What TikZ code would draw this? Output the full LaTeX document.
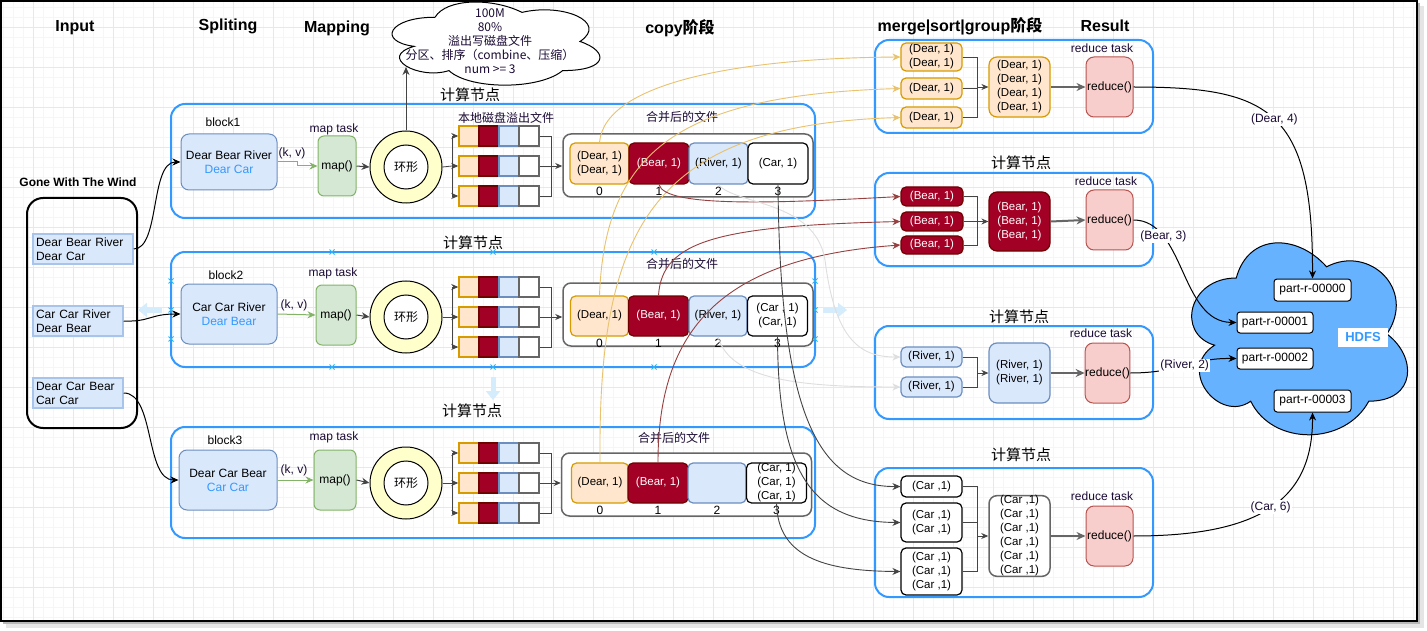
\documentclass[tikz,border=0pt]{standalone}
\usepackage{fontspec}
\setmainfont{Liberation Sans}
\newfontfamily\cjk{Noto Sans CJK SC}
\usetikzlibrary{arrows.meta}

\definecolor{compblue}{RGB}{51,153,255}
\definecolor{splitfill}{RGB}{218,232,252}
\definecolor{splitdraw}{RGB}{108,142,191}
\definecolor{linedraw}{RGB}{169,196,235}
\definecolor{mapfill}{RGB}{213,232,212}
\definecolor{mapdraw}{RGB}{130,179,102}
\definecolor{ringfill}{RGB}{255,255,204}
\definecolor{dearfill}{RGB}{255,230,204}
\definecolor{deardraw}{RGB}{215,155,0}
\definecolor{bearfill}{RGB}{162,0,37}
\definecolor{beardraw}{RGB}{111,0,0}
\definecolor{celldraw}{RGB}{102,102,102}
\definecolor{redfill}{RGB}{248,206,204}
\definecolor{reddraw}{RGB}{184,84,80}
\definecolor{hdfsfill}{RGB}{102,178,255}
\definecolor{inktext}{RGB}{26,10,51}
\definecolor{wordblue}{RGB}{51,153,255}
\definecolor{copyyellow}{RGB}{232,194,110}
\definecolor{copyred}{RGB}{150,64,64}
\definecolor{copygrey}{RGB}{222,222,222}
\definecolor{copydark}{RGB}{68,68,68}
\definecolor{gridminor}{RGB}{246,246,246}
\definecolor{gridmajor}{RGB}{232,232,232}
\definecolor{handleblue}{RGB}{41,182,242}
\definecolor{hoverblue}{RGB}{212,236,252}

\newcommand\fsbody{\fontsize{12}{14}\selectfont}
\newcommand\fstuple{\fontsize{11.5}{14}\selectfont}
\newcommand\fstitle{\fontsize{16}{19}\selectfont\bfseries}
\newcommand\fsnode{\cjk\fontsize{15}{17}\selectfont}
\newcommand\fscjk{\cjk\fontsize{12}{14}\selectfont}
\newcommand\cloudoutline[4]{(#1+0.25*#3,#2+0.25*#4)
  .. controls (#1+0.05*#3,#2+0.25*#4) and (#1,#2+0.5*#4) .. (#1+0.16*#3,#2+0.55*#4)
  .. controls (#1,#2+0.66*#4) and (#1+0.18*#3,#2+0.9*#4) .. (#1+0.31*#3,#2+0.8*#4)
  .. controls (#1+0.4*#3,#2+#4) and (#1+0.7*#3,#2+#4) .. (#1+0.8*#3,#2+0.8*#4)
  .. controls (#1+#3,#2+0.8*#4) and (#1+#3,#2+0.6*#4) .. (#1+0.875*#3,#2+0.5*#4)
  .. controls (#1+#3,#2+0.3*#4) and (#1+0.8*#3,#2+0.1*#4) .. (#1+0.625*#3,#2+0.2*#4)
  .. controls (#1+0.5*#3,#2+0.05*#4) and (#1+0.3*#3,#2+0.05*#4) .. (#1+0.25*#3,#2+0.25*#4) -- cycle}

\begin{document}
\begin{tikzpicture}[x=1pt, y=-1pt,
    stagetitle/.style={font=\fstitle, inner sep=1pt},
    note/.style={font=\fsbody, text=inktext, inner sep=1pt},
    cjknote/.style={font=\fscjk, text=inktext, inner sep=1pt},
    nodename/.style={font=\fsnode, inner sep=1pt},
    compnode/.style={draw=compblue, line width=2pt, rounded corners=14pt, inner sep=0pt},
    inputbox/.style={draw=black, line width=2pt, rounded corners=16pt, inner sep=0pt},
    linebox/.style={draw=linedraw, fill=splitfill, line width=1.5pt, font=\fsbody, align=left, inner xsep=3pt, inner ysep=0pt, minimum height=30pt},
    splitbox/.style={draw=splitdraw, fill=splitfill, line width=1pt, rounded corners=8pt, font=\fsbody, align=center, inner sep=0pt},
    mapbox/.style={draw=mapdraw, fill=mapfill, line width=1pt, rounded corners=6pt, font=\fsbody, minimum height=60pt, inner sep=0pt},
    ringbuf/.style={circle, draw=black, fill=ringfill, line width=1pt, minimum size=72pt, inner sep=0pt},
    ringcore/.style={circle, draw=black, fill=white, line width=1pt, minimum size=44pt, inner sep=0pt, font=\fscjk},
    spillcell/.style={line width=1.5pt, minimum width=20pt, minimum height=20pt, inner sep=0pt},
    mergedfile/.style={draw=celldraw, fill=white, line width=1.5pt, rounded corners=8pt, minimum width=250pt, minimum height=63pt, inner sep=0pt},
    tuple/.style={line width=1.2pt, rounded corners=5pt, font=\fstuple, align=center, inner sep=0pt},
    dearbox/.style={tuple, draw=deardraw, fill=dearfill},
    bearbox/.style={tuple, draw=beardraw, fill=bearfill, text=white},
    riverbox/.style={tuple, draw=splitdraw, fill=splitfill},
    carbox/.style={tuple, draw=black, fill=white},
    reducebox/.style={draw=reddraw, fill=redfill, line width=1pt, rounded corners=8pt, font=\fsbody, minimum height=60pt, inner sep=0pt},
    partfile/.style={draw=black, fill=white, line width=1pt, rounded corners=3pt, font=\fsbody, minimum width=77pt, minimum height=22pt, inner sep=0pt},
    num/.style={font=\fsbody, inner sep=0pt},
    edgelabel/.style={font=\fsbody, fill=white, text=inktext, inner sep=1pt},
    inflow/.style={draw=black, line width=1pt, -{Stealth[length=8pt,width=7pt]}},
    kvarrow/.style={draw=mapdraw, line width=1pt, -{Stealth[length=8pt,width=7pt]}},
    flow/.style={draw=copydark, line width=1pt, -{Stealth[length=8pt,width=7pt]}},
    thinline/.style={draw=copydark, line width=0.8pt},
    spillarrow/.style={draw=copydark, line width=0.8pt, -{Stealth[length=7pt,width=6pt]}},
    toreduce/.style={draw=celldraw, line width=2pt, -{Stealth[length=9pt,width=8pt]}},
    copyy/.style={draw=copyyellow, line width=0.9pt, -{Stealth[length=8pt,width=7pt]}},
    copyr/.style={draw=copyred, line width=0.9pt, -{Stealth[length=8pt,width=7pt]}},
    copyg/.style={draw=copygrey, line width=0.9pt, -{Stealth[length=8pt,width=7pt]}},
    copyd/.style={draw=copydark, line width=0.9pt, -{Stealth[length=8pt,width=7pt]}},
    result/.style={draw=black, line width=1pt, -{Stealth[length=8pt,width=7pt]}},
    gridfine/.style={draw=gridminor, line width=0.6pt},
    gridbold/.style={draw=gridmajor, line width=0.8pt},
    handle/.style={draw=handleblue, line width=0.8pt},
    hover/.style={draw=hoverblue, line width=5pt, -{Triangle[length=9pt,width=14pt]}}]

   \useasboundingbox (0,0) rectangle (1427,631);
   \fill[black!10] (6,6) rectangle (1424,628);
   \fill[black!28] (3,3) rectangle (1420,624);
   \fill[white] (1,1) rectangle (1417,621);
   \foreach \gx in {3,13,...,1413} \draw[gridfine] (\gx,1) -- (\gx,621);
   \foreach \gy in {7,17,...,617} \draw[gridfine] (1,\gy) -- (1417,\gy);
   \foreach \gx in {33,73,...,1393} \draw[gridbold] (\gx,1) -- (\gx,621);
   \foreach \gy in {27,67,...,587} \draw[gridbold] (1,\gy) -- (1417,\gy);
   \draw[black, line width=1.5pt] (1,1) rectangle (1417,621);

   \node[stagetitle] (t-input) at (75,28) {Input};
   \node[stagetitle] (t-split) at (228,26) {Spliting};
   \node[stagetitle] (t-map) at (337,28) {Mapping};
   \node[stagetitle] (t-copy) at (680,28) {copy{\cjk 阶段}};
   \node[stagetitle] (t-merge) at (960,26) {merge|sort|group{\cjk 阶段}};
   \node[stagetitle] (t-result) at (1105,26) {Result};

   \node[font=\fsbody\bfseries, inner sep=1pt] (wind-title) at (78,182) {Gone With The Wind};
   \node[inputbox, minimum width=110pt, minimum height=230pt] (wind) at (82,313) {};
   \node[linebox, text width=94pt] (in1) at (83,249) {Dear Bear River\\Dear Car};
   \node[linebox, text width=84pt] (in2) at (78,321) {Car Car River\\Dear Bear};
   \node[linebox, text width=84pt] (in3) at (78,393) {Dear Car Bear\\Car Car};

   \node[compnode, minimum width=644pt, minimum height=114pt] (blk1) at (493,161) {};
   \node[compnode, minimum width=644pt, minimum height=115pt] (blk2) at (493,309.5) {};
   \node[compnode, minimum width=644pt, minimum height=111pt] (blk3) at (493,482.5) {};
   \node[nodename] (blk1-name) at (470,95) {计算节点};
   \node[nodename] (blk2-name) at (473,243) {计算节点};
   \node[nodename] (blk3-name) at (472,411) {计算节点};

   \foreach \hx/\hy in {171/281,171/310,171/339,332/252,332/367,493/252,493/367,654/252,654/367,815/281,815/310,815/339}
     \draw[handle] (\hx-2.5,\hy-2.5) -- (\hx+2.5,\hy+2.5) (\hx-2.5,\hy+2.5) -- (\hx+2.5,\hy-2.5);
   \draw[hover] (162,310) -- (138,310);
   \draw[hover] (823,310) -- (847,310);
   \draw[hover] (493,377) -- (493,400);

   \node[note, text=black] (blk1-tag) at (223,122) {block1};
   \node[note, text=black] (blk2-tag) at (226,275) {block2};
   \node[note, text=black] (blk3-tag) at (225,440) {block3};
   \node[splitbox, minimum width=96pt, minimum height=56pt] (s1) at (229,162) {Dear Bear River\\\textcolor{wordblue}{Dear Car}};
   \node[splitbox, minimum width=96pt, minimum height=60pt] (s2) at (229,314) {Car Car River\\\textcolor{wordblue}{Dear Bear}};
   \node[splitbox, minimum width=98pt, minimum height=60pt] (s3) at (228,480) {Dear Car Bear\\\textcolor{wordblue}{Car Car}};

   \node[note] (m1-tag) at (334,129) {map task};
   \node[note] (m2-tag) at (333,273) {map task};
   \node[note] (m3-tag) at (334,437) {map task};
   \node[mapbox, minimum width=38pt] (m1) at (337,166) {map()};
   \node[mapbox, minimum width=40pt] (m2) at (336,315) {map()};
   \node[mapbox, minimum width=42pt] (m3) at (335,480) {map()};
   \node[note] (kv1) at (292,153) {(k, v)};
   \node[note] (kv2) at (294,305) {(k, v)};
   \node[note] (kv3) at (294,470) {(k, v)};

   \node[ringbuf] (ring1) at (406,167) {};
   \node[ringbuf] (ring2) at (406,317) {};
   \node[ringbuf] (ring3) at (406,483) {};
   \node[ringcore] (core1) at (ring1) {环形};
   \node[ringcore] (core2) at (ring2) {环形};
   \node[ringcore] (core3) at (ring3) {环形};

   \draw[black, fill=white, line width=1pt] \cloudoutline{377}{-7}{232}{97};
   \node[cjknote, align=center] (spillnote) at (490,41) {100M\\80\%\\溢出写磁盘文件\\分区、排序（combine、压缩）\\num >= 3};
   \coordinate (cloudfoot) at (406,67);

   \node[cjknote] (spill-name) at (506,118) {本地磁盘溢出文件};
   \foreach \blk/\rowtop in {1/126,2/277,3/443}
     \foreach \row in {1,2,3} {
       \pgfmathsetmacro\ry{\rowtop+30*\row-20}
       \node[spillcell, draw=deardraw, fill=dearfill] (f\blk-\row-a) at (469,\ry) {};
       \node[spillcell, draw=beardraw, fill=bearfill] (f\blk-\row-b) at (489,\ry) {};
       \node[spillcell, draw=splitdraw, fill=splitfill] (f\blk-\row-c) at (509,\ry) {};
       \node[spillcell, draw=celldraw, fill=white] (f\blk-\row-d) at (529,\ry) {};
     }
   \foreach \blk/\ry in {1/166,2/317,3/483} {
     \coordinate (sp\blk) at (452,\ry);
     \coordinate (mj\blk) at (551,\ry);
   }

   \node[cjknote] (mg1-name) at (682,117) {合并后的文件};
   \node[cjknote] (mg2-name) at (682,264) {合并后的文件};
   \node[cjknote] (mg3-name) at (674,438) {合并后的文件};
   \node[mergedfile] (mg1) at (688,165.5) {};
   \node[mergedfile] (mg2) at (688,314.5) {};
   \node[mergedfile] (mg3) at (686.5,484.5) {};

   \node[dearbox, minimum width=59pt, minimum height=41pt] (p10) at (599.5,163.5) {(Dear, 1)\\(Dear, 1)};
   \node[bearbox, minimum width=60pt, minimum height=41pt] (p11) at (659,163.5) {(Bear, 1)};
   \node[riverbox, minimum width=59pt, minimum height=41pt] (p12) at (718.5,163.5) {(River, 1)};
   \node[carbox, minimum width=60pt, minimum height=41pt] (p13) at (778,163.5) {(Car, 1)};
   \node[dearbox, minimum width=58pt, minimum height=40pt] (p20) at (599.5,316) {(Dear, 1)};
   \node[bearbox, minimum width=60pt, minimum height=40pt] (p21) at (658.5,316) {(Bear, 1)};
   \node[riverbox, minimum width=58pt, minimum height=40pt] (p22) at (718,316) {(River, 1)};
   \node[carbox, minimum width=60pt, minimum height=40pt] (p23) at (777.5,316) {(Car , 1)\\(Car, 1)};
   \node[dearbox, minimum width=57pt, minimum height=40pt] (p30) at (600,483) {(Dear, 1)};
   \node[bearbox, minimum width=60pt, minimum height=40pt] (p31) at (658,483) {(Bear, 1)};
   \node[riverbox, minimum width=58pt, minimum height=40pt] (p32) at (717,483) {};
   \node[carbox, minimum width=60pt, minimum height=40pt] (p33) at (776.5,483) {(Car, 1)\\(Car, 1)\\(Car, 1)};
   \foreach \blk in {1,2,3}
     \foreach \k in {0,1,2,3}
       \node[num] (n\blk\k) at ([yshift=-7pt]p\blk\k.south) {\k};

   \draw[inflow] (in1.east) .. controls (160,249) and (150,162) .. (s1.west);
   \draw[inflow] (in2.east) .. controls (150,322) and (150,314) .. (s2.west);
   \draw[inflow] (in3.east) .. controls (155,393) and (145,480) .. (s3.west);
   \draw[kvarrow] (s1.east) -- ++(20,0) |- (m1.west);
   \draw[kvarrow] (s2.east) -- (m2.west);
   \draw[kvarrow] (s3.east) -- (m3.west);
   \draw[flow] (m1.east) -- (ring1.west);
   \draw[flow] (m2.east) -- (ring2.west);
   \draw[flow] (m3.east) -- (ring3.west);
   \draw[flow] (ring1.north) -- (cloudfoot);
   \foreach \blk in {1,2,3} {
     \draw[thinline] (ring\blk.east) -- (sp\blk);
     \draw[spillarrow] (sp\blk) |- (f\blk-1-a.west);
     \draw[spillarrow] (sp\blk) -- (f\blk-2-a.west);
     \draw[spillarrow] (sp\blk) |- (f\blk-3-a.west);
     \draw[thinline] (f\blk-1-d.east) -| (mj\blk);
     \draw[thinline] (f\blk-3-d.east) -| (mj\blk);
     \draw[spillarrow] (f\blk-2-d.east) -- (f\blk-2-d.east -| mg\blk.west);
   }

   \node[compnode, minimum width=278pt, minimum height=93pt] (rg1) at (1014,86.5) {};
   \node[compnode, minimum width=278pt, minimum height=93pt] (rg2) at (1014,219.5) {};
   \node[compnode, minimum width=278pt, minimum height=93pt] (rg3) at (1014,372.5) {};
   \node[compnode, minimum width=278pt, minimum height=129pt] (rg4) at (1014,532.5) {};
   \node[nodename] (rg2-name) at (1021,163) {计算节点};
   \node[nodename] (rg3-name) at (1019,317) {计算节点};
   \node[nodename] (rg4-name) at (1021,455) {计算节点};
   \node[note] (rd1-tag) at (1102,48) {reduce task};
   \node[note] (rd2-tag) at (1106,181) {reduce task};
   \node[note] (rd3-tag) at (1101,333) {reduce task};
   \node[note] (rd4-tag) at (1102,496) {reduce task};

   \node[dearbox, minimum width=61pt, minimum height=28pt] (d1) at (931.5,57) {(Dear, 1)\\(Dear, 1)};
   \node[dearbox, minimum width=61pt, minimum height=21pt] (d2) at (931.5,88.5) {(Dear, 1)};
   \node[dearbox, minimum width=61pt, minimum height=21pt] (d3) at (931.5,117.5) {(Dear, 1)};
   \node[dearbox, rounded corners=8pt, minimum width=61pt, minimum height=60pt] (dm) at (1019.5,87) {(Dear, 1)\\(Dear, 1)\\(Dear, 1)\\(Dear, 1)};
   \node[reducebox, minimum width=47pt] (rd1) at (1109.5,87) {reduce()};

   \node[bearbox, minimum width=62pt, minimum height=19pt] (b1) at (932,196.5) {(Bear, 1)};
   \node[bearbox, minimum width=62pt, minimum height=19pt] (b2) at (932,221.5) {(Bear, 1)};
   \node[bearbox, minimum width=62pt, minimum height=18pt] (b3) at (932,245) {(Bear, 1)};
   \node[bearbox, rounded corners=8pt, minimum width=61pt, minimum height=59pt] (bm) at (1019.5,221.5) {(Bear, 1)\\(Bear, 1)\\(Bear, 1)};
   \node[reducebox, minimum width=47pt] (rd2) at (1109.5,220) {reduce()};

   \node[riverbox, minimum width=61pt, minimum height=20pt] (v1) at (931.5,357) {(River, 1)};
   \node[riverbox, minimum width=61pt, minimum height=20pt] (v2) at (931.5,387) {(River, 1)};
   \node[riverbox, rounded corners=8pt, minimum width=61pt, minimum height=60pt] (vm) at (1019.5,373) {(River, 1)\\(River, 1)};
   \node[reducebox, minimum width=43pt] (rd3) at (1107.5,373) {reduce()};

   \node[carbox, minimum width=61pt, minimum height=21pt] (c1) at (931.5,486.5) {(Car ,1)};
   \node[carbox, minimum width=61pt, minimum height=39pt] (c2) at (931.5,522.5) {(Car ,1)\\(Car ,1)};
   \node[carbox, minimum width=61pt, minimum height=47pt] (c3) at (931.5,571.5) {(Car ,1)\\(Car ,1)\\(Car ,1)};
   \node[carbox, draw=celldraw, line width=1.5pt, rounded corners=8pt, minimum width=61pt, minimum height=80pt] (cm) at (1019.5,536) {(Car ,1)\\(Car ,1)\\(Car ,1)\\(Car ,1)\\(Car ,1)\\(Car ,1)};
   \node[reducebox, minimum width=47pt] (rd4) at (1109.5,536) {reduce()};

   \coordinate (gj1) at (977,87);
   \coordinate (gj2) at (977,221.5);
   \coordinate (gj3) at (977,373);
   \coordinate (gj4) at (977,536);
   \draw[thinline] (d1.east) -| (gj1);
   \draw[thinline] (d2.east) -| (gj1);
   \draw[thinline] (d3.east) -| (gj1);
   \draw[spillarrow] (gj1) -- (dm.west);
   \draw[thinline] (b1.east) -| (gj2);
   \draw[thinline] (b2.east) -| (gj2);
   \draw[thinline] (b3.east) -| (gj2);
   \draw[spillarrow] (gj2) -- (bm.west);
   \draw[thinline] (v1.east) -| (gj3);
   \draw[thinline] (v2.east) -| (gj3);
   \draw[spillarrow] (gj3) -- (vm.west);
   \draw[thinline] (c1.east) -| (gj4);
   \draw[thinline] (c2.east) -| (gj4);
   \draw[thinline] (c3.east) -| (gj4);
   \draw[spillarrow] (gj4) -- (cm.west);
   \draw[toreduce] (dm.east) -- (rd1.west);
   \draw[toreduce] (bm.east) -- (rd2.west);
   \draw[toreduce] (vm.east) -- (rd3.west);
   \draw[toreduce] (cm.east) -- (rd4.west);

   \draw[copyy] (p10.north) .. controls (605,80) and (750,58) .. (d1.west);
   \draw[copyy] (p20.north) .. controls (605,150) and (680,95) .. (d2.west);
   \draw[copyy] (p30.north) .. controls (598,230) and (650,125) .. (d3.west);
   \draw[copyr] (p11.south) .. controls (665,208) and (780,203) .. (b1.west);
   \draw[copyr] (p21.north) .. controls (662,240) and (720,226) .. (b2.west);
   \draw[copyr] (p31.north) .. controls (658,330) and (720,258) .. (b3.west);
   \draw[copyg] (p12.south) .. controls (735,205) and (815,200) .. (825,260) .. controls (835,340) and (860,357) .. (v1.west);
   \draw[copyg] (p22.south) .. controls (730,380) and (800,387) .. (v2.west);
   \draw[copyd] (p13.south) .. controls (780,420) and (820,487) .. (c1.west);
   \draw[copyd] (p23.south) .. controls (778,470) and (810,522) .. (c2.west);
   \draw[copyd] (p33.south) .. controls (778,555) and (820,571) .. (c3.west);

   \draw[black, fill=hdfsfill, line width=1pt] \cloudoutline{1176}{222}{241}{224};
   \node[partfile] (pr0) at (1312.5,290) {part-r-00000};
   \node[partfile, minimum width=76pt, minimum height=21pt] (pr1) at (1275,322.5) {part-r-00001};
   \node[partfile, minimum width=76pt, minimum height=21pt] (pr2) at (1275,358.5) {part-r-00002};
   \node[partfile] (pr3) at (1312.5,401) {part-r-00003};
   \node[fill=white, text=wordblue, font=\fontsize{13}{15}\selectfont\bfseries, minimum width=50pt, minimum height=19pt, inner sep=0pt] (hdfs-name) at (1363,337.5) {HDFS};

   \draw[result] (rd1.east) .. controls (1270,87) and (1313,110) .. (pr0.north) node[edgelabel, pos=0.5] {(Dear, 4)};
   \draw[result] (rd2.east) .. controls (1185,220) and (1180,322) .. (pr1.west) node[edgelabel, pos=0.25] {(Bear, 3)};
   \draw[result] (rd3.east) .. controls (1180,373) and (1190,358) .. (pr2.west) node[edgelabel, pos=0.5] {(River, 2)};
   \draw[result] (rd4.east) .. controls (1260,536) and (1313,500) .. (pr3.south) node[edgelabel, pos=0.5] {(Car, 6)};
 \end{tikzpicture}
\end{document}
